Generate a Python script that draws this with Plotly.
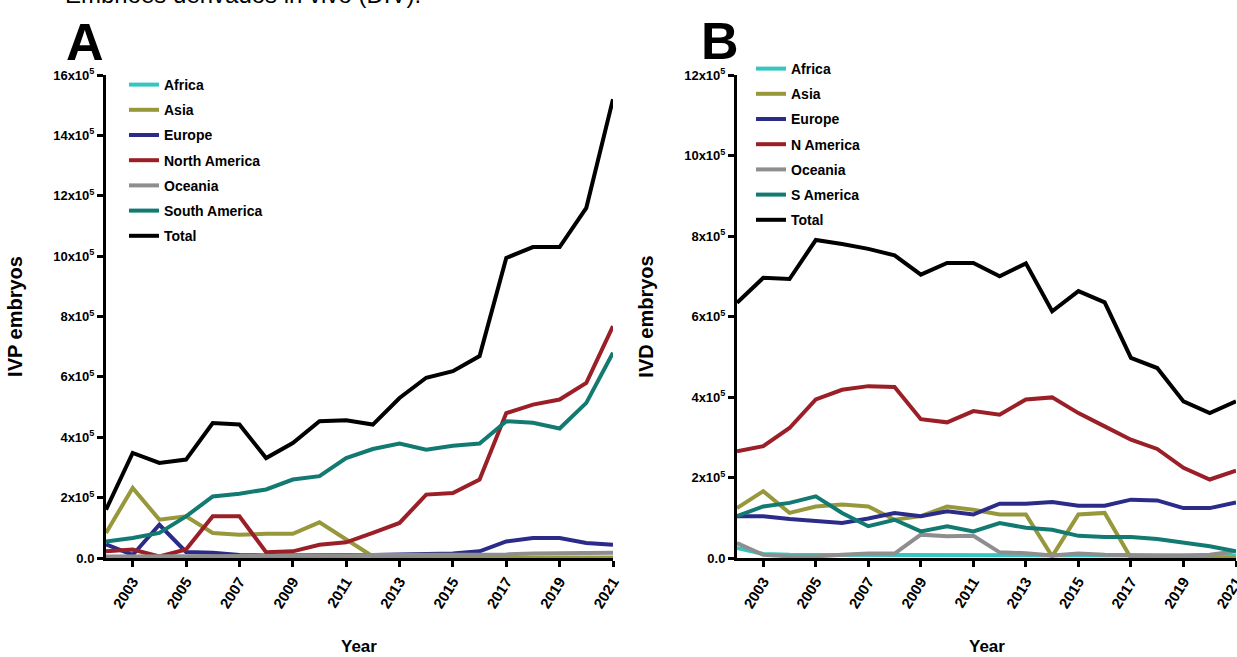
import plotly.graph_objects as go

# ---------------- data (values in units of 10^5 embryos) ----------------
years = [2002, 2003, 2004, 2005, 2006, 2007, 2008, 2009, 2010, 2011,
         2012, 2013, 2014, 2015, 2016, 2017, 2018, 2019, 2020, 2021]
tick_years = [2003, 2005, 2007, 2009, 2011, 2013, 2015, 2017, 2019, 2021]

# Panel A: IVP embryos
ivp_africa = [0.02, 0.02, 0.02, 0.02, 0.02, 0.02, 0.02, 0.02, 0.02, 0.02,
              0.02, 0.02, 0.02, 0.02, 0.02, 0.02, 0.02, 0.02, 0.02, 0.02]
ivp_asia = [0.83, 2.32, 1.27, 1.38, 0.83, 0.77, 0.80, 0.80, 1.18, 0.60,
            0.05, 0.02, 0.01, 0.01, 0.0, 0.0, 0.0, 0.0, 0.0, 0.0]
ivp_europe = [0.45, 0.10, 1.10, 0.20, 0.17, 0.10, 0.08, 0.08, 0.08, 0.10,
              0.10, 0.12, 0.12, 0.15, 0.22, 0.55, 0.66, 0.66, 0.50, 0.44]
ivp_namerica = [0.22, 0.28, 0.05, 0.28, 1.38, 1.38, 0.19, 0.22, 0.44, 0.52,
                0.83, 1.16, 2.10, 2.15, 2.60, 4.80, 5.08, 5.25, 5.80, 7.68]
ivp_oceania = [0.05, 0.05, 0.05, 0.05, 0.06, 0.06, 0.06, 0.07, 0.08, 0.08,
               0.10, 0.10, 0.10, 0.10, 0.12, 0.12, 0.15, 0.15, 0.15, 0.17]
ivp_samerica = [0.55, 0.66, 0.83, 1.38, 2.04, 2.13, 2.27, 2.60, 2.71, 3.31,
                3.61, 3.79, 3.59, 3.72, 3.79, 4.53, 4.48, 4.29, 5.14, 6.80]
ivp_total = [1.60, 3.48, 3.15, 3.26, 4.47, 4.42, 3.31, 3.81, 4.53, 4.56,
             4.42, 5.30, 5.97, 6.19, 6.69, 9.94, 10.30, 10.30, 11.60, 15.20]

# Panel B: IVD embryos
ivd_africa = [0.25, 0.10, 0.08, 0.08, 0.08, 0.08, 0.08, 0.08, 0.08, 0.08,
              0.08, 0.08, 0.08, 0.07, 0.07, 0.07, 0.06, 0.06, 0.05, 0.05]
ivd_asia = [1.24, 1.66, 1.12, 1.28, 1.33, 1.28, 0.95, 1.04, 1.28, 1.20,
            1.08, 1.08, 0.04, 1.08, 1.12, 0.0, 0.0, 0.0, 0.0, 0.0]
ivd_europe = [1.04, 1.04, 0.97, 0.91, 0.87, 0.98, 1.12, 1.04, 1.16, 1.08,
              1.35, 1.35, 1.39, 1.30, 1.30, 1.45, 1.43, 1.24, 1.24, 1.38]
ivd_namerica = [2.65, 2.78, 3.23, 3.94, 4.18, 4.27, 4.25, 3.45, 3.37, 3.65,
                3.56, 3.94, 3.99, 3.60, 3.27, 2.94, 2.71, 2.24, 1.95, 2.17]
ivd_oceania = [0.37, 0.08, 0.04, 0.04, 0.08, 0.11, 0.11, 0.58, 0.54, 0.55,
               0.14, 0.12, 0.06, 0.11, 0.08, 0.06, 0.06, 0.06, 0.08, 0.17]
ivd_samerica = [1.04, 1.28, 1.37, 1.53, 1.12, 0.79, 0.95, 0.66, 0.79, 0.66,
                0.87, 0.75, 0.70, 0.55, 0.52, 0.52, 0.47, 0.39, 0.29, 0.17]
ivd_total = [6.34, 6.96, 6.93, 7.90, 7.80, 7.68, 7.52, 7.04, 7.33, 7.33,
             7.00, 7.32, 6.13, 6.63, 6.35, 4.97, 4.72, 3.89, 3.60, 3.89]

ticks_a = [0, 2, 4, 6, 8, 10, 12, 14, 16]
ticks_b = [0, 2, 4, 6, 8, 10, 12]
UNIT = 1e5

names_a = ["Africa", "Asia", "Europe", "North America", "Oceania", "South America", "Total"]
names_b = ["Africa", "Asia", "Europe", "N America", "Oceania", "S America", "Total"]
colors = ["#35c6c2", "#97973c", "#2b2b8a", "#9a1f27", "#8e8e8e", "#137a72", "#000000"]

series_a = [ivp_africa, ivp_asia, ivp_europe, ivp_namerica, ivp_oceania, ivp_samerica, ivp_total]
series_b = [ivd_africa, ivd_asia, ivd_europe, ivd_namerica, ivd_oceania, ivd_samerica, ivd_total]

FONT = "Liberation Sans, Arial, sans-serif"

# figure fills the whole window (page margin removed below)
W, H = 1237, 657


def px(x):
    return x / W


def py(y):
    return 1 - y / H


fig = go.Figure()
for name, vals, col in zip(names_a, series_a, colors):
    fig.add_trace(go.Scatter(x=years, y=[v * UNIT for v in vals], mode="lines", name=name,
                             line=dict(color=col, width=4), xaxis="x", yaxis="y",
                             legend="legend", legendgroup="A" + name))
for name, vals, col in zip(names_b, series_b, colors):
    fig.add_trace(go.Scatter(x=years, y=[v * UNIT for v in vals], mode="lines", name=name,
                             line=dict(color=col, width=4), xaxis="x2", yaxis="y2",
                             legend="legend2", legendgroup="B" + name))

ytickfont = dict(family=FONT, size=13, color="black", weight="bold")
xtickfont = dict(family=FONT, size=15, color="black", weight="bold")
xtitlefont = dict(family=FONT, size=17, color="black", weight="bold")


def xaxis(domain, anchor):
    return dict(domain=domain, anchor=anchor, range=[2002, 2021],
                tickvals=tick_years, ticktext=[str(y) for y in tick_years],
                tickangle=-58, ticks="outside", ticklen=6, tickwidth=2.5, tickcolor="black",
                showline=True, linewidth=3, linecolor="black", showgrid=False, zeroline=False,
                tickfont=xtickfont, ticklabeloverflow="allow",
                automargin=False)


def yaxis(domain, anchor, ticks, top, title):
    text = ["0.0"] + [f"{t}x10<sup>5</sup>" for t in ticks[1:]]
    return dict(domain=domain, anchor=anchor, range=[0, top * UNIT],
                tickvals=[t * UNIT for t in ticks], ticktext=text,
                ticks="outside", ticklen=6, tickwidth=2.5, tickcolor="black",
                showline=True, linewidth=3, linecolor="black", showgrid=False, zeroline=False,
                tickfont=ytickfont, ticklabeloverflow="allow",
                title=dict(text=title, font=dict(family=FONT, size=20, color="black", weight="bold"),
                           standoff=26),
                automargin=False)


ydom = [py(558), py(75)]
xdom_a = [px(106), px(613)]
xdom_b = [px(737), px(1236)]
legfont = dict(family=FONT, size=14, color="black", weight="bold")
fig.update_layout(
    template="none",
    width=W, height=H,
    margin=dict(l=0, r=0, t=0, b=0),
    paper_bgcolor="white", plot_bgcolor="white",
    showlegend=True,
    xaxis=xaxis(xdom_a, "y"),
    yaxis=yaxis(ydom, "x", ticks_a, 16, "IVP embryos"),
    xaxis2=xaxis(xdom_b, "y2"),
    yaxis2=yaxis(ydom, "x2", ticks_b, 12, "IVD embryos"),
    legend=dict(x=px(124), y=py(69), xanchor="left", yanchor="top", bgcolor="rgba(0,0,0,0)",
                font=legfont, traceorder="grouped", tracegroupgap=4, borderwidth=0),
    legend2=dict(x=px(751), y=py(53), xanchor="left", yanchor="top", bgcolor="rgba(0,0,0,0)",
                 font=legfont, traceorder="grouped", tracegroupgap=4, borderwidth=0),
    annotations=[
        dict(text="A", x=px(85), y=py(42), xref="paper", yref="paper",
             xanchor="center", yanchor="middle", showarrow=False,
             font=dict(family=FONT, size=52, color="black", weight="bold")),
        dict(text="B", x=px(720), y=py(40.5), xref="paper", yref="paper",
             xanchor="center", yanchor="middle", showarrow=False,
             font=dict(family=FONT, size=52, color="black", weight="bold")),
        dict(text="Year", x=sum(xdom_a) / 2, y=py(646), xref="paper", yref="paper",
             xanchor="center", yanchor="middle", showarrow=False, font=xtitlefont),
        dict(text="Year", x=sum(xdom_b) / 2, y=py(646), xref="paper", yref="paper",
             xanchor="center", yanchor="middle", showarrow=False, font=xtitlefont),
        dict(text="Embriões derivados in vivo (DIV).", x=px(63), y=1, xref="paper", yref="paper",
             xanchor="left", yanchor="top", yshift=21, showarrow=False,
             font=dict(family=FONT, size=24, color="black")),
    ],
)

fig.write_html(
    "out.html",
    config={"displayModeBar": False},
    post_script="document.body.style.margin='0px';document.body.style.overflow='hidden';",
)
